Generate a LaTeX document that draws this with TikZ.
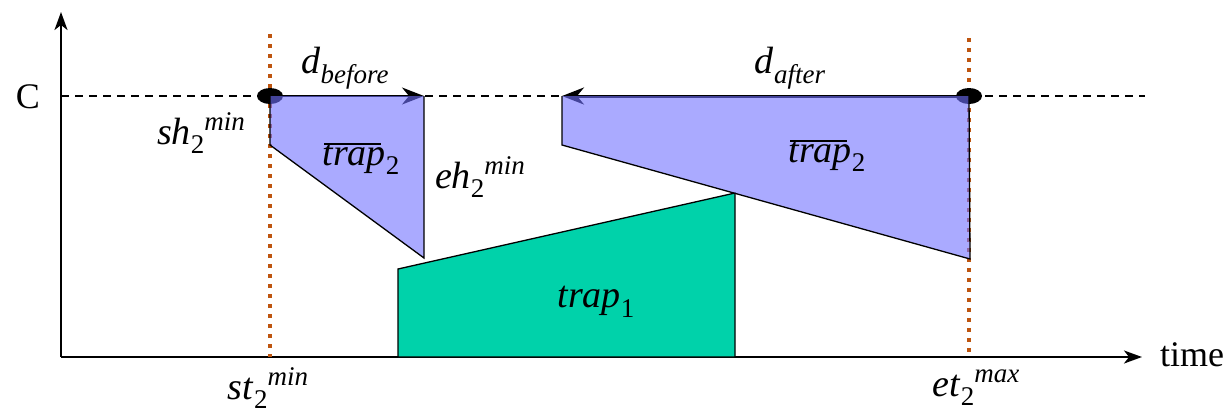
\documentclass[tikz,border=0pt]{standalone}
\usepackage{fontspec}
\setmainfont{Liberation Serif}
\usetikzlibrary{arrows.meta}
\definecolor{dotorange}{RGB}{190,85,15}
\definecolor{trapblue}{RGB}{113,113,255}
\definecolor{trapgreen}{RGB}{0,210,170}
\newcommand{\smallsz}{\fontsize{27}{30}\selectfont}
\newcommand{\sbsp}[3]{\textit{#1}\raisebox{-0.24em}{\smallsz #2}\raisebox{0.36em}{\smallsz\textit{#3}}}
\newcommand{\sbonly}[2]{\textit{#1}\raisebox{-0.26em}{\smallsz #2}}
\newcommand{\trapbar}[1]{\begin{tabular}{@{}l@{}}\hspace{0.05em}\rule[0pt]{1.5em}{1.5pt}\\[-0.62em]\textit{trap}\raisebox{-0.26em}{\smallsz #1}\end{tabular}}
\tikzset{
  axisline/.style={line width=2.2pt,-{Stealth[length=18pt,width=13pt,inset=5pt]}},
  levelline/.style={line width=1.4pt,dash pattern=on 8pt off 6pt},
  boundline/.style={line width=3.5pt,dotorange,dash pattern=on 4pt off 6pt},
  bluefill/.style={fill=trapblue,fill opacity=0.6},
  edgeline/.style={draw=black,line width=1.3pt},
  greentrap/.style={fill=trapgreen,draw=black,line width=1.3pt},
  darrow/.style={-{Stealth[length=22pt,width=17pt,inset=7pt]}},
  lbl/.style={inner sep=0pt,font=\fontsize{38}{44}\selectfont},
  axlbl/.style={inner sep=0pt,font=\fontsize{36}{42}\selectfont},
}
\begin{document}
\begin{tikzpicture}[x=1pt,y=-1pt]
\useasboundingbox (0,0) rectangle (1229,413);
% axes
\coordinate (O) at (61,357);
\coordinate (ytop) at (61,12);
\coordinate (xend) at (1142,357);
\draw[axisline] (O) -- (ytop);
\draw[axisline] (O) -- (xend);
\node[axlbl,anchor=west] (time) at (1160,355) {time};
\node[axlbl] (C) at (28,97) {C};
% capacity level
\coordinate (cl) at (61,96);
\coordinate (cr) at (1145,96);
\draw[levelline] (cl) -- (cr);
% bounds
\coordinate (st) at (270,357);
\coordinate (sttop) at (270,34);
\coordinate (et) at (969,357);
\coordinate (ettop) at (969,38);
\draw[boundline] (sttop) -- (st);
\draw[boundline] (ettop) -- (et);
% trap1
\draw[greentrap] (398,357) -- (398,269) -- (735,193) -- (735,357) -- cycle;
\node[lbl] (trap1) at (596,302) {\sbonly{trap}{1}};
% arrows and points
\coordinate (b1) at (270,96);
\coordinate (b2) at (424,96);
\coordinate (a1) at (969,96);
\coordinate (a2) at (562,96);
\draw[darrow,line width=1.5pt] (b1) -- (b2);
\draw[darrow,line width=3pt] (a1) -- (a2);
\fill (b1) ellipse (13pt and 8pt);
\fill (a1) ellipse (13pt and 8pt);
% blue trapezoids
\fill[bluefill] (270,96) -- (424,96) -- (424,258) -- (270,145) -- cycle;
\draw[edgeline] (270,96) -- (270,145) -- (424,258) -- (424,96);
\fill[bluefill] (562,96) -- (969,96) -- (970,259) -- (562,145) -- cycle;
\draw[edgeline] (562,96) -- (562,145) -- (970,259) -- (969,96);
% labels
\node[lbl] (db) at (345,68) {\sbonly{d}{\textit{before}}};
\node[lbl] (da) at (790,68) {\sbonly{d}{\textit{after}}};
\node[lbl] (sh) at (201,133) {\sbsp{sh}{2}{min}};
\node[lbl] (eh) at (480,177) {\sbsp{eh}{2}{min}};
\node[lbl] (tb1) at (361,146) {\trapbar{2}};
\node[lbl] (tb2) at (827,143) {\trapbar{2}};
\node[lbl] (stl) at (268,388) {\sbsp{st}{2}{min}};
\node[lbl] (etl) at (976,388) {\sbsp{et}{2}{max}};
\end{tikzpicture}
\end{document}
